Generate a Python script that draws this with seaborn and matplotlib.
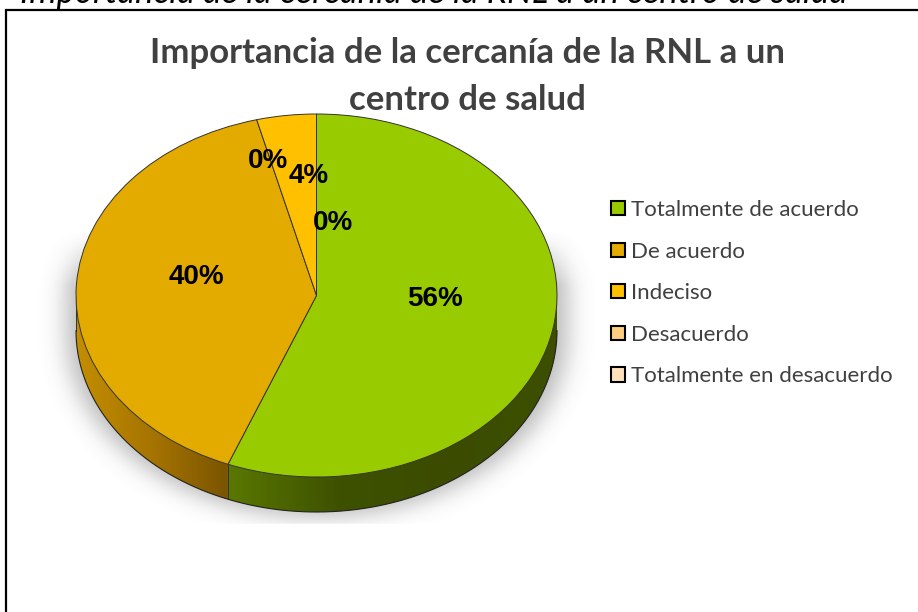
import numpy as np
import seaborn as sns
import matplotlib
matplotlib.use('Agg')
import matplotlib.pyplot as plt
from matplotlib.patches import Rectangle, Polygon
from matplotlib.colors import LinearSegmentedColormap

# datos
categorias = ['Totalmente de acuerdo', 'De acuerdo', 'Indeciso', 'Desacuerdo', 'Totalmente en desacuerdo']
porcentajes = [56, 40, 4, 0, 0]
colores = ['#99CC00', '#E3AA00', '#FFC000', '#FFCC80', '#FFE2BC']
# colores del lateral 3D (gradiente de izquierda a derecha)
lados = [['#5a7800', '#3e5100', '#3b4c00', '#3d5000'],
         ['#c48e00', '#a67400', '#7a5400'],
         ['#b08600', '#b08600'],
         ['#b08a50', '#b08a50'],
         ['#b09a80', '#b09a80']]
# desplazamientos de las etiquetas (unidades del eje)
desp = [(0, 0), (0, 0), (0.03, 0.09), (-0.2, 0.17), (0.07, -0.17)]

titulo1 = 'Importancia de la cercanía de la RNL a un'
titulo2 = 'centro de salud'
leyenda_sup = 'Importancia de la cercanía de la RNL a un centro de salud'

sns.set_theme(style='white')

W, H = 918, 612
fig = plt.figure(figsize=(W / 100, H / 100), dpi=100)

# elipse: centro (316.5, 295.5) px, semiejes 240.5 x 181.5 px
cx, cy, a, b = 316.5, 295.5, 240.5, 181.5
lim = 1.3
ax = fig.add_axes([(cx - lim * a) / W, 1 - (cy + lim * b) / H, 2 * lim * a / W, 2 * lim * b / H])
prof = 35 / b

wedges, _ = ax.pie(porcentajes, colors=colores, startangle=90, counterclock=False,
                   wedgeprops=dict(edgecolor='#333333', linewidth=0.7, zorder=3))
ax.set_aspect('auto')
ax.set_xlim(-lim, lim)
ax.set_ylim(-lim, lim)
ax.axis('off')

# sombra difusa
g = np.linspace(-lim, lim, 520)
X, Y = np.meshgrid(g, g)
Xs = X / 1.04
semi = np.sqrt(np.clip(1 - Xs ** 2, 0, None))
dentro = ((np.abs(Xs) <= 1) & (Y <= semi) & (Y >= -semi - prof - 0.03)).astype(float)


def suavizar(arr, sig, eje):
    k = np.exp(-0.5 * (np.arange(-3 * sig, 3 * sig + 1) / sig) ** 2)
    k /= k.sum()
    return np.apply_along_axis(lambda v: np.convolve(v, k, mode='same'), eje, arr)


sombra = suavizar(suavizar(dentro, 10, 1), 12, 0)
y_corte = (cy - 525) / b
alfa = sombra * 0.55 * np.clip((0.35 - Y) / 0.3, 0, 1) * (Y >= y_corte)
img = np.zeros((520, 520, 4))
img[..., :3] = 0.5
img[..., 3] = alfa
ax.imshow(img, extent=[-lim, lim, -lim, lim], origin='lower', aspect='auto', zorder=0,
          interpolation='bilinear')

# lateral 3D
for w, stops in zip(wedges, lados):
    t = np.linspace(w.theta1, w.theta2, 600)
    t = t[np.sin(np.radians(t)) <= 1e-9]
    if len(t) < 2:
        continue
    xs, ys = np.cos(np.radians(t)), np.sin(np.radians(t))
    pts = np.vstack([np.column_stack([xs, ys]), np.column_stack([xs, ys - prof])[::-1]])
    poly = Polygon(pts, closed=True, facecolor='none', edgecolor='none')
    ax.add_patch(poly)
    cmap = LinearSegmentedColormap.from_list('lado', stops)
    grad = np.linspace(0, 1, 256).reshape(1, -1)
    im = ax.imshow(grad, cmap=cmap, extent=[xs.min(), xs.max(), ys.min() - prof, 0],
                   aspect='auto', zorder=1)
    im.set_clip_path(poly)
    # linea vertical entre sectores
    ax.plot([xs[0], xs[0]], [ys[0], ys[0] - prof], color='#333333', lw=0.7, zorder=2)

tb = np.linspace(np.pi, 2 * np.pi, 300)
ax.plot(np.cos(tb), np.sin(tb) - prof, color='#222222', lw=0.8, zorder=2)
ax.set_xlim(-lim, lim)
ax.set_ylim(-lim, lim)

# etiquetas de porcentaje
for w, v, (dx, dy) in zip(wedges, porcentajes, desp):
    ang = np.radians((w.theta1 + w.theta2) / 2)
    ax.text(0.5 * np.cos(ang) + dx, 0.5 * np.sin(ang) + 0.072 + dy, f'{v}%',
            ha='center', va='center', fontsize=20, fontweight='bold',
            family='Liberation Sans', color='black', zorder=5)

# leyenda
leg = fig.legend(wedges, categorias, loc='upper left', bbox_to_anchor=(611 / W, 1 - 200 / H),
                 frameon=False, handlelength=0.62, handleheight=0.62,
                 handletextpad=0.3, labelspacing=0.97, borderpad=0, borderaxespad=0,
                 prop=dict(family='Lato', size=16))
for p in leg.get_patches():
    p.set_edgecolor('black')
    p.set_linewidth(1.5)
for txt in leg.get_texts():
    txt.set_color('#404040')

# titulos
fig.text(468 / W, 1 - 63 / H, titulo1, ha='center', va='baseline', fontsize=25,
         fontweight='bold', family='Lato', color='#404040')
fig.text(467 / W, 1 - 110 / H, titulo2, ha='center', va='baseline', fontsize=25,
         fontweight='bold', family='Lato', color='#404040')
fig.text(20 / W, 1 - 3 / H, leyenda_sup, ha='left', va='baseline', fontsize=25,
         style='italic', family='Lato', color='black')

# marco del grafico
fig.add_artist(Rectangle((6 / W, -0.1), 1.2, 1.1 - 10 / H, transform=fig.transFigure,
                         fill=False, edgecolor='black', linewidth=1.6))

fig.savefig('out.png', dpi=100)
